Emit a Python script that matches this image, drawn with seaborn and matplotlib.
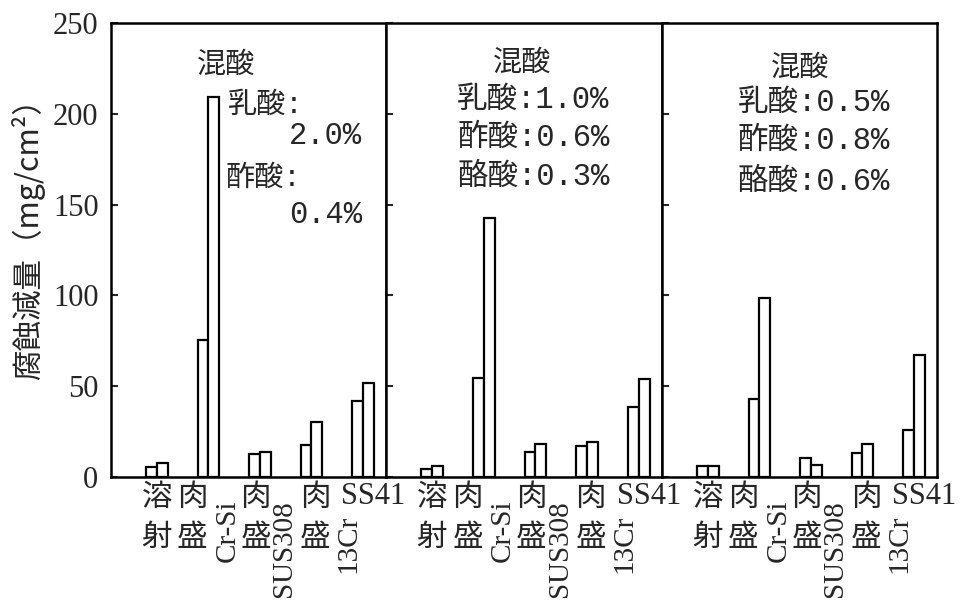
import numpy as np
import pandas as pd
import matplotlib
matplotlib.use("Agg")
import matplotlib.pyplot as plt
import seaborn as sns
from matplotlib.transforms import blended_transform_factory

# ---------------- data ----------------
categories = ["Cr-Si溶射", "Cr-Si肉盛", "SUS308肉盛", "13Cr肉盛", "SS41"]
series = ["A", "B"]
panel1_a = [5.5, 75.5, 12.5, 17.5, 42.0]
panel1_b = [7.7, 209.0, 14.0, 30.5, 51.5]
panel2_a = [4.5, 54.5, 13.5, 17.0, 38.5]
panel2_b = [6.0, 142.5, 18.0, 19.0, 54.0]
panel3_a = [6.0, 43.0, 10.5, 13.0, 26.0]
panel3_b = [6.0, 98.5, 6.5, 18.0, 67.0]

row1_labels = ["溶", "肉", "肉", "肉", "SS41"]
row2_labels = ["射", "盛", "盛", "盛", ""]
material_labels = ["Cr-Si", "SUS308", "13Cr"]
yticks = [0, 50, 100, 150, 200, 250]
ylabel = "腐蝕減量（mg/cm²）"

note_title = "混酸"
panel1_notes = ["乳酸:", "2.0%", "酢酸:", "0.4%"]
panel2_notes = ["乳酸:1.0%", "酢酸:0.6%", "酪酸:0.3%"]
panel3_notes = ["乳酸:0.5%", "酢酸:0.8%", "酪酸:0.6%"]

# ---------------- style ----------------
sns.set_style("white")
CJK = ["Noto Sans CJK JP", "DejaVu Sans"]
SERIF = ["Liberation Serif", "Noto Sans CJK JP"]
MONO = ["Liberation Mono", "Noto Sans CJK JP"]
plt.rcParams["font.family"] = SERIF

W, H = 965, 601
fig = plt.figure(figsize=(W / 100, H / 100), dpi=100)

panel_px = [(111, 275), (386, 276), (662, 275)]
top_px, bot_px = 23, 477
panel_data = [(panel1_a, panel1_b), (panel2_a, panel2_b), (panel3_a, panel3_b)]

axes = []
for i, ((lx, w), (va, vb)) in enumerate(zip(panel_px, panel_data)):
    ax = fig.add_axes([lx / W, 1 - bot_px / H, w / W, (bot_px - top_px) / H])
    df = pd.DataFrame({
        "cat": categories * 2,
        "series": [series[0]] * 5 + [series[1]] * 5,
        "val": list(va) + list(vb),
    })
    sns.barplot(data=df, x="cat", y="val", hue="series", order=categories,
                hue_order=series, palette=["white", "white"], edgecolor="black",
                linewidth=1.6, width=0.42, gap=0, legend=False, ax=ax,
                errorbar=None, saturation=1)
    ax.set_xlim(-0.89, 4.45)
    ax.set_ylim(0, 250)
    ax.set_yticks(yticks)
    ax.set_xticks([])
    ax.set_xlabel("")
    ax.set_ylabel("")
    for s in ax.spines.values():
        s.set_visible(True)
        s.set_linewidth(1.8)
        s.set_color("black")
    ax.tick_params(axis="y", direction="in", length=5, width=1.5, pad=9,
                   labelsize=22, left=True)
    if i == 0:
        ax.set_yticklabels([str(t) for t in yticks], fontfamily=SERIF)
    else:
        ax.set_yticklabels([])
    axes.append(ax)

    tr = blended_transform_factory(ax.transData, fig.transFigure)
    row_offsets = [0.0, -0.31, -0.08, 0.07, 0.2]
    for j in range(5):
        fam = SERIF if row1_labels[j] == "SS41" else CJK
        ax.text(j + row_offsets[j], 1 - 497 / H, row1_labels[j], ha="center",
                va="center", fontsize=22, family=fam, transform=tr)
        if row2_labels[j]:
            ax.text(j + row_offsets[j], 1 - 538 / H, row2_labels[j], ha="center",
                    va="center", fontsize=22, family=CJK, transform=tr)
    mat_x = [1.37, 2.47, 3.72]
    mat_top = [500, 500, 515]
    for m, mx, mt in zip(material_labels, mat_x, mat_top):
        ax.text(mx, 1 - mt / H, m, rotation=90, ha="center", va="top",
                fontsize=21, family=SERIF, transform=tr)

# annotations
a1, a2, a3 = axes
a1.text(0.418, 0.907, note_title, transform=a1.transAxes, ha="center", va="center",
        fontsize=21, family=CJK)
a1.text(0.425, 0.819, panel1_notes[0], transform=a1.transAxes, ha="left", va="center",
        fontsize=21, family=MONO)
a1.text(0.913, 0.751, panel1_notes[1], transform=a1.transAxes, ha="right", va="center",
        fontsize=22, family=MONO)
a1.text(0.415, 0.659, panel1_notes[2], transform=a1.transAxes, ha="left", va="center",
        fontsize=21, family=MONO)
a1.text(0.913, 0.577, panel1_notes[3], transform=a1.transAxes, ha="right", va="center",
        fontsize=22, family=MONO)

a2.text(0.491, 0.912, note_title, transform=a2.transAxes, ha="center", va="center",
        fontsize=21, family=CJK)
for t, y in zip(panel2_notes, [0.830, 0.747, 0.661]):
    a2.text(0.534, y, t, transform=a2.transAxes, ha="center", va="center",
            fontsize=22, family=MONO)

a3.text(0.502, 0.901, note_title, transform=a3.transAxes, ha="center", va="center",
        fontsize=21, family=CJK)
for t, y in zip(panel3_notes, [0.824, 0.740, 0.650]):
    a3.text(0.553, y, t, transform=a3.transAxes, ha="center", va="center",
            fontsize=22, family=MONO)

fig.text(28 / W, 1 - 232 / H, ylabel, rotation=90, ha="center", va="center",
         fontsize=22, family=CJK)

fig.savefig("out.png", dpi=100, facecolor="white")
